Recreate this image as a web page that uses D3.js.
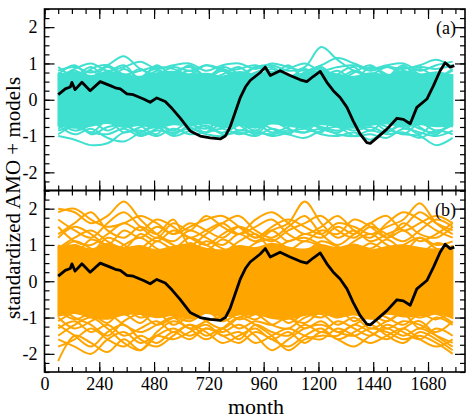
<!DOCTYPE html>
<html>
<head>
<meta charset="utf-8">
<script src="https://cdn.jsdelivr.net/npm/d3@7"></script>
<style>
  body { margin: 0; background: #fff; }
  svg text { font-family: "Liberation Serif", "Times New Roman", serif; fill: #000; }
</style>
</head>
<body>
<svg id="canvas" width="469" height="418"></svg>
<script>
// AMO index (black curve)
let amoMonth = [60,91,113,120,134,164,200,244,288,310,332,361,389,434,463,492,529,560,594,638,682,726,770,792,813,835,857,880,901,945,967,989,1032,1076,1120,1149,1177,1208,1237,1265,1295,1325,1352,1383,1412,1427,1456,1500,1544,1572,1602,1631,1675,1704,1733,1755,1777,1795]
let amoValue = [0.14,0.30,0.35,0.48,0.28,0.48,0.25,0.50,0.39,0.33,0.30,0.16,0.14,0.02,-0.07,0.05,-0.05,-0.25,-0.5,-0.86,-1.0,-1.05,-1.08,-1.0,-0.75,-0.35,0.05,0.35,0.53,0.75,0.9,0.67,0.8,0.67,0.55,0.5,0.64,0.78,0.48,0.25,0.06,-0.21,-0.58,-0.95,-1.18,-1.2,-1.05,-0.81,-0.51,-0.54,-0.66,-0.21,0.02,0.39,0.8,1.02,0.9,0.94]

// months at which the model curves were read
let months = [60,132,204,276,348,420,492,564,636,708,780,852,924,996,1068,1140,1212,1284,1356,1428,1500,1572,1644,1716,1788]

// panel (a): dense part of the ensemble and the outer curves
let coreAHi = [0.7,0.76,0.66,0.78,0.7,0.64,0.74,0.78,0.68,0.72,0.65,0.77,0.7,0.78,0.66,0.74,0.78,0.7,0.64,0.74,0.68,0.77,0.7,0.76,0.68]
let coreALo = [-0.72,-0.78,-0.72,-0.65,-0.76,-0.7,-0.78,-0.68,-0.72,-0.65,-0.77,-0.7,-0.78,-0.66,-0.72,-0.77,-0.68,-0.74,-0.78,-0.7,-0.66,-0.76,-0.68,-0.74,-0.7]
let modelsA = [
  [0.8,0.9,0.75,0.95,1.2,0.85,0.7,0.9,0.8,0.95,0.85,0.7,0.9,0.95,0.8,0.9,1.45,1.1,0.8,0.7,0.9,0.85,0.95,1.1,0.9],
  [0.6,0.85,1.0,0.8,0.9,1.05,0.85,0.95,1.0,0.8,0.95,1.0,0.85,1.0,0.9,0.8,0.95,1.15,1.0,0.85,0.95,1.0,0.8,0.95,1.05],
  [0.3,0.6,0.9,0.5,0.2,0.6,0.85,0.4,0.1,0.5,0.9,0.7,0.3,0.6,0.95,0.5,0.2,0.7,0.9,0.4,0.6,0.95,0.5,0.3,0.7],
  [0.75,0.5,0.85,0.95,0.7,0.8,0.9,0.85,0.7,0.95,0.8,0.85,0.95,0.75,0.85,1.0,0.8,0.9,0.95,0.8,0.9,0.75,0.9,0.85,0.95],
  [0.55,0.8,0.6,0.9,0.65,0.85,0.55,0.75,0.9,0.6,0.8,0.55,0.9,0.7,0.6,0.85,0.65,0.8,0.55,0.9,0.7,0.6,0.85,0.65,0.8],
  [0.9,0.65,0.8,0.55,0.85,0.6,0.95,0.65,0.8,0.55,0.7,0.9,0.6,0.85,0.55,0.75,0.9,0.6,0.8,0.65,0.55,0.9,0.7,0.6,0.85],
  [0.7,0.95,0.6,0.75,0.95,0.55,0.8,0.7,0.95,0.65,0.85,0.6,0.75,0.9,0.6,0.7,0.85,0.55,0.75,0.95,0.65,0.8,0.6,0.75,0.6],
  [-1.0,-1.1,-1.25,-1.2,-0.9,-0.85,-1.0,-0.8,-0.95,-0.9,-0.8,-0.95,-0.85,-1.0,-0.9,-0.8,-0.95,-1.0,-0.9,-1.1,-0.85,-0.95,-1.0,-1.25,-1.05],
  [-0.7,-0.95,-0.8,-1.05,-1.15,-0.9,-0.75,-1.0,-0.85,-0.7,-0.95,-0.9,-1.0,-0.8,-0.95,-1.05,-0.85,-0.75,-1.0,-0.95,-1.05,-0.8,-0.9,-1.0,-0.85],
  [-0.3,-0.6,-0.9,-0.5,-0.2,-0.7,-0.95,-0.4,-0.6,-0.9,-0.3,-0.6,-0.85,-0.5,-0.2,-0.7,-0.9,-0.4,-0.6,-0.85,-0.5,-0.3,-0.75,-0.95,-0.5],
  [-0.85,-0.75,-0.9,-0.95,-0.8,-1.0,-0.85,-0.9,-0.8,-0.95,-1.0,-0.85,-0.9,-0.95,-0.85,-0.9,-0.8,-0.95,-1.0,-0.85,-0.95,-0.9,-1.05,-0.85,-0.95],
  [-0.6,-0.85,-0.7,-0.55,-0.9,-0.75,-0.6,-0.95,-0.7,-0.8,-0.55,-0.85,-0.65,-0.9,-0.75,-0.6,-0.8,-0.9,-0.65,-0.55,-0.85,-0.7,-0.95,-0.6,-0.75],
  [-0.95,-0.7,-0.6,-0.85,-0.65,-0.95,-0.8,-0.6,-0.75,-0.9,-0.65,-0.7,-0.95,-0.6,-0.8,-0.9,-0.55,-0.7,-0.85,-0.75,-0.9,-0.6,-0.8,-0.9,-0.65],
  [-0.8,-0.6,-0.95,-0.75,-0.7,-0.9,-0.65,-0.85,-0.6,-0.75,-0.9,-0.7,-0.6,-0.8,-0.95,-0.65,-0.75,-0.85,-0.7,-0.6,-0.75,-0.95,-0.65,-0.85,-0.7]
]

// panel (b)
let coreBHi = [0.95,1.0,0.88,1.04,0.92,0.98,0.86,0.96,1.02,0.9,0.86,0.98,0.92,1.04,0.94,0.88,1.0,0.92,1.02,0.86,0.95,1.0,0.92,0.88,0.98]
let coreBLo = [-0.96,-0.88,-1.0,-1.04,-0.92,-0.9,-1.0,-0.94,-1.04,-0.88,-0.98,-0.92,-0.9,-1.02,-1.04,-0.94,-0.88,-1.0,-0.92,-1.04,-0.9,-0.98,-0.95,-0.88,-1.02]
let modelsB = [
  [2.0,1.9,1.6,1.8,2.2,1.7,1.3,1.1,1.4,1.2,1.0,1.3,1.1,1.4,1.6,2.2,1.6,1.2,1.4,1.1,1.3,1.5,1.9,1.6,1.4],
  [1.9,2.0,1.7,1.5,1.6,1.8,1.6,1.3,1.5,1.7,1.8,1.5,1.2,1.5,1.7,1.5,1.3,1.6,1.5,1.3,1.5,1.7,2.15,1.6,1.3],
  [1.2,1.5,1.3,1.0,1.4,1.2,1.5,1.3,1.6,1.4,1.2,1.5,1.3,1.1,1.4,1.6,1.8,1.4,1.2,1.5,1.3,1.1,1.4,1.7,1.5],
  [0.9,1.2,1.4,1.1,0.9,1.3,1.1,1.4,1.2,1.0,1.3,1.5,1.2,1.4,1.1,1.3,1.2,1.5,1.3,1.6,1.2,1.4,1.1,1.3,1.6],
  [1.5,1.1,1.0,1.3,1.6,1.4,1.7,1.5,1.2,1.4,1.6,1.3,1.5,1.7,1.3,1.1,1.4,1.3,1.7,1.5,1.2,1.6,1.3,1.2,1.5],
  [0.6,1.0,0.8,1.2,1.0,0.7,1.1,0.9,1.2,1.0,0.8,1.1,1.3,0.9,1.1,1.2,1.0,0.8,1.1,1.3,1.0,0.8,1.2,1.0,1.1],
  [1.7,1.4,1.2,1.6,1.9,1.5,1.2,1.6,1.4,1.8,1.5,1.3,1.7,1.9,1.6,1.3,1.5,1.8,1.4,1.2,1.6,1.9,1.7,1.4,1.2],
  [0.8,1.1,0.9,0.7,1.0,1.2,0.9,0.75,1.05,0.85,1.15,0.9,0.7,1.0,0.85,1.1,0.95,0.75,1.0,0.9,1.15,0.85,0.75,1.05,0.9],
  [1.0,0.75,1.15,0.95,0.8,0.9,1.2,1.0,0.8,1.1,0.9,0.75,1.05,1.15,0.9,0.8,1.1,0.95,0.8,1.05,0.85,1.0,1.2,0.9,0.8],
  [1.3,1.6,1.9,1.4,1.2,1.5,1.3,1.7,1.0,1.3,1.6,1.8,1.4,1.2,1.5,1.8,1.3,1.0,1.3,1.6,1.8,1.4,1.6,1.8,1.6],
  [-2.2,-1.5,-1.7,-1.95,-1.6,-1.9,-1.5,-1.3,-1.5,-1.3,-1.4,-1.2,-1.5,-1.9,-1.6,-1.3,-1.2,-1.4,-1.5,-1.3,-1.4,-1.6,-1.5,-1.7,-2.0],
  [-1.6,-1.8,-2.0,-1.6,-1.4,-1.7,-1.5,-1.6,-1.4,-1.2,-1.5,-1.4,-1.7,-1.5,-1.3,-1.5,-1.6,-1.3,-1.5,-1.7,-1.5,-1.3,-1.6,-1.8,-1.6],
  [-1.3,-1.1,-1.4,-1.2,-1.5,-1.3,-1.1,-1.4,-1.2,-1.5,-1.3,-1.6,-1.2,-1.4,-1.5,-1.2,-1.4,-1.1,-1.3,-1.5,-1.2,-1.4,-1.6,-1.3,-1.5],
  [-1.0,-1.3,-1.1,-0.9,-1.2,-1.4,-1.2,-1.0,-1.3,-1.1,-1.0,-1.3,-1.1,-1.2,-1.0,-1.3,-1.1,-1.4,-1.2,-1.0,-1.3,-1.1,-1.2,-1.4,-1.1],
  [-0.7,-1.0,-1.2,-1.5,-1.1,-0.9,-1.2,-1.0,-0.8,-1.1,-1.3,-1.0,-0.9,-1.2,-1.3,-1.0,-0.9,-1.2,-1.0,-1.3,-1.1,-0.9,-1.3,-1.0,-1.2],
  [-1.5,-1.2,-1.0,-1.3,-1.7,-1.9,-1.4,-1.1,-1.3,-1.6,-1.3,-1.0,-1.2,-1.5,-1.9,-1.6,-1.5,-1.5,-1.2,-1.4,-1.6,-1.3,-1.1,-1.5,-1.8],
  [-1.8,-1.6,-1.3,-1.6,-1.8,-1.5,-1.7,-1.4,-1.6,-1.3,-1.5,-1.7,-1.4,-1.6,-1.8,-1.5,-1.3,-1.6,-1.4,-1.2,-1.5,-1.7,-1.4,-1.6,-1.9],
  [-0.8,-1.05,-0.9,-1.15,-0.75,-1.0,-0.85,-1.2,-0.95,-0.8,-1.1,-0.9,-1.05,-0.8,-1.15,-0.9,-1.0,-0.75,-1.1,-0.85,-1.0,-1.2,-0.9,-1.05,-0.8],
  [-1.1,-0.85,-0.75,-1.0,-0.9,-1.15,-0.8,-0.95,-1.1,-0.85,-0.75,-1.05,-0.9,-0.8,-1.0,-1.15,-0.85,-1.0,-0.8,-0.9,-1.1,-0.85,-1.0,-0.9,-1.15],
  [-1.2,-1.5,-1.8,-1.4,-1.2,-1.6,-1.8,-1.5,-1.2,-1.4,-1.7,-1.5,-1.3,-1.6,-1.4,-1.7,-1.4,-1.6,-1.8,-1.5,-1.3,-1.5,-1.3,-1.5,-1.7]
]

let xTicks = [0,240,480,720,960,1200,1440,1680]
let yTicks = [-2,-1,0,1,2]

let canvas = d3.select('#canvas')

let left = 44.5, right = 465
let x = d3.scaleLinear().domain([0, 1842]).range([left, right])
let xMinor = d3.range(0, 1842, 60)
let yMinor = d3.range(-2.5, 2.51, 0.25)

let drawPanel = (top, bottom, hi, lo, models, color, tag, showX) => {
    let y = d3.scaleLinear().domain([-2.5, 2.5]).range([bottom, top])
    let g = canvas.append('g')

    let clipId = 'clip' + tag
    g.append('clipPath').attr('id', clipId)
        .append('rect')
        .attr('x', left).attr('y', top)
        .attr('width', right - left).attr('height', bottom - top)

    let plot = g.append('g').attr('clip-path', 'url(#' + clipId + ')')

    let area = d3.area()
        .x((d, i) => x(months[i]))
        .y0((d, i) => y(lo[i]))
        .y1((d, i) => y(hi[i]))
        .curve(d3.curveCatmullRom)
    plot.append('path')
        .attr('d', area(months))
        .attr('fill', color)
        .attr('stroke', color)
        .attr('stroke-width', 1.5)

    let line = d3.line()
        .x((d, i) => x(months[i]))
        .y((d) => y(d))
        .curve(d3.curveCatmullRom)
    plot.selectAll('path.model')
        .data(models)
        .enter()
        .append('path')
        .attr('class', 'model')
        .attr('d', line)
        .attr('fill', 'none')
        .attr('stroke', color)
        .attr('stroke-width', 2)

    let amoLine = d3.line()
        .x((d, i) => x(amoMonth[i]))
        .y((d) => y(d))
    plot.append('path')
        .attr('d', amoLine(amoValue))
        .attr('fill', 'none')
        .attr('stroke', '#000')
        .attr('stroke-width', 2.8)
        .attr('stroke-linejoin', 'round')

    // ticks on all four sides, pointing inward
    let axes = [
        [d3.axisLeft(y), 'translate(' + left + ',0)', yTicks, yMinor, true],
        [d3.axisRight(y), 'translate(' + right + ',0)', yTicks, yMinor, false],
        [d3.axisTop(x), 'translate(0,' + top + ')', xTicks, xMinor, false],
        [d3.axisBottom(x), 'translate(0,' + bottom + ')', xTicks, xMinor, false]
    ]
    axes.forEach(([ax, tr, major, minor, labels], k) => {
        let showLabels = labels || (k === 3 && showX)
        g.append('g').attr('transform', tr)
            .call(ax.tickValues(minor).tickSize(-5).tickFormat(''))
            .call(s => s.select('.domain').remove())
        g.append('g').attr('transform', tr)
            .call(ax.tickValues(major).tickSize(-10).tickPadding(k === 3 ? 5 : 7)
                .tickFormat(showLabels ? d3.format('d') : ''))
            .call(s => s.select('.domain').remove())
            .call(s => s.selectAll('text').style('font-size', '18px'))
    })
    g.selectAll('.tick line').attr('stroke-width', 1.2)
    g.selectAll('.tick text').text(function () { return this.textContent.replace('\u2212', '-') })

    g.append('rect')
        .attr('x', left).attr('y', top)
        .attr('width', right - left).attr('height', bottom - top)
        .attr('fill', 'none')
        .attr('stroke', '#000')
        .attr('stroke-width', 1.6)

    g.append('text')
        .attr('x', 456).attr('y', top + 25)
        .attr('text-anchor', 'end')
        .style('font-size', '18px')
        .text('(' + tag + ')')
}

drawPanel(9, 190.5, coreAHi, coreALo, modelsA, '#40E0D0', 'a', false)
drawPanel(190.5, 372, coreBHi, coreBLo, modelsB, '#FFA500', 'b', true)

canvas.append('text')
    .attr('x', 256).attr('y', 414)
    .attr('text-anchor', 'middle')
    .style('font-size', '22px')
    .text('month')

canvas.append('text')
    .attr('transform', 'translate(20,198) rotate(-90)')
    .attr('text-anchor', 'middle')
    .style('font-size', '21px')
    .text('standardized AMO + models')
</script>
</body>
</html>
